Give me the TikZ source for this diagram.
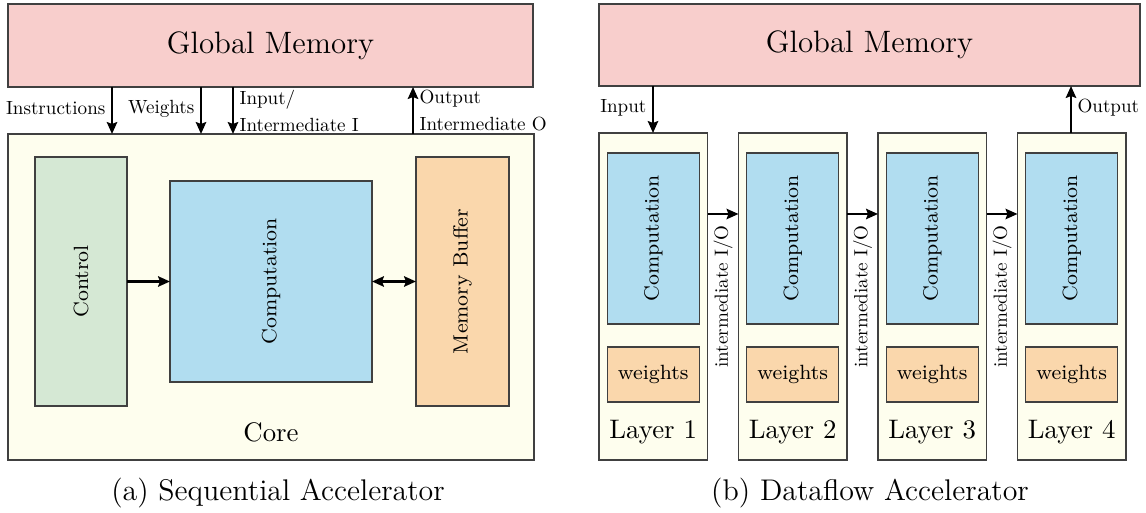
\documentclass[tikz,border=0pt]{standalone}
\usetikzlibrary{arrows.meta,calc}
\newlength\pxu
\setlength\pxu{0.388pt}
\definecolor{gmfill}{HTML}{F8CECC}
\definecolor{corefill}{HTML}{FEFEEE}
\definecolor{ctrlfill}{HTML}{D5E8D4}
\definecolor{compfill}{HTML}{B1DDF0}
\definecolor{buffill}{HTML}{FAD7AC}
\definecolor{edge}{HTML}{404040}
\tikzset{
  box/.style={draw=edge, line width=0.55pt, inner sep=0pt, outer sep=0pt},
  tip/.tip={Stealth[length=4.6pt,width=4pt,inset=0.7pt]},
  arr/.style={line width=0.95pt, -tip},
  arrboth/.style={line width=0.95pt, tip-tip},
  small/.style={font=\fontsize{10}{14.2}\selectfont, scale=0.74, transform shape, inner sep=3pt},
  inner/.style={font=\footnotesize, inner sep=0pt},
  big/.style={font=\fontsize{10.4}{12}\selectfont, inner sep=0pt},
  caption/.style={font=\fontsize{11.6}{13}\selectfont, inner sep=0pt},
}
\begin{document}
\begin{tikzpicture}[x=\pxu, y=-\pxu]
\useasboundingbox (0,0) rectangle (1146,513);

% ---------- (a) sequential accelerator ----------
\node[box, fill=gmfill, minimum width=525\pxu, minimum height=83\pxu,
      font=\large] (gmA) at (270.5,45.5) {Global Memory};
\node[box, fill=corefill, minimum width=526\pxu, minimum height=326\pxu] (coreA) at (271,297) {};
\node[big] (coreT) at (271,432) {Core};

\node[box, fill=ctrlfill, minimum width=92\pxu, minimum height=249\pxu] (ctrl) at (81,281.5) {};
\node[inner, rotate=90] (ctrlT) at (ctrl.center) {Control};
\node[box, fill=compfill, minimum width=202\pxu, minimum height=201\pxu] (compA) at (271,281.5) {};
\node[inner, rotate=90] (compAT) at (compA.center) {Computation};
\node[box, fill=buffill, minimum width=93\pxu, minimum height=249\pxu] (buf) at (462.5,281.5) {};
\node[inner, rotate=90] (bufT) at (buf.center) {Memory Buffer};

\draw[arr] (ctrl.east) -- (compA.west);
\draw[arrboth] (compA.east) -- (buf.west);

\coordinate (xi) at (112,0);
\coordinate (xw) at (201,0);
\coordinate (xin) at (233,0);
\coordinate (xout) at (413,0);
\draw[arr] (gmA.south -| xi) -- (coreA.north -| xi)
  node[small, midway, left, yshift=1pt] {Instructions};
\draw[arr] (gmA.south -| xw) -- (coreA.north -| xw)
  node[small, midway, left, yshift=1pt] {Weights};
\draw[arr] (gmA.south -| xin) -- (coreA.north -| xin)
  node[small, midway, right, align=left] {Input/\\Intermediate I};
\draw[arr] (coreA.north -| xout) -- (gmA.south -| xout)
  node[small, midway, right, align=left] {Output\\Intermediate O};

\node[caption] (capA) at (278,493) {(a) Sequential Accelerator};

% ---------- (b) dataflow accelerator ----------
\node[box, fill=gmfill, minimum width=541\pxu, minimum height=82\pxu,
      font=\large] (gmB) at (869.5,45) {Global Memory};

\foreach \i/\l in {1/599, 2/738.5, 3/878, 4/1017.5} {
  \node[box, fill=corefill, minimum width=108.5\pxu, minimum height=327\pxu]
    (L\i) at (\l+54.25,296.5) {};
  \node[box, fill=compfill, minimum width=92\pxu, minimum height=171\pxu]
    (C\i) at (\l+54.25,238.5) {};
  \node[inner, rotate=90] (C\i T) at (C\i.center) {Computation};
  \node[box, fill=buffill, minimum width=92\pxu, minimum height=55\pxu, font=\footnotesize]
    (W\i) at (\l+54.25,374.5) {weights};
  \node[big] (L\i T) at (\l+54.25,432) {Layer \i};
}

\coordinate (yio) at (0,214);
\foreach \a/\b in {1/2, 2/3, 3/4} {
  \draw[arr] (L\a.east |- yio) -- (L\b.west |- yio);
  \node[small, inner sep=0pt, rotate=90, anchor=east] (io\a)
    at ($(L\a.east |- yio)!0.5!(L\b.west |- yio) + (0,11)$) {intermediate I/O};
}

\coordinate (xbin) at (653,0);
\coordinate (xbout) at (1071,0);
\draw[arr] (gmB.south -| xbin) -- (L1.north -| xbin)
  node[small, midway, left, yshift=1pt] {Input};
\draw[arr] (L4.north -| xbout) -- (gmB.south -| xbout)
  node[small, midway, right, yshift=1pt] {Output};

\node[caption] (capB) at (870,493) {(b) Dataflow Accelerator};
\end{tikzpicture}
\end{document}
